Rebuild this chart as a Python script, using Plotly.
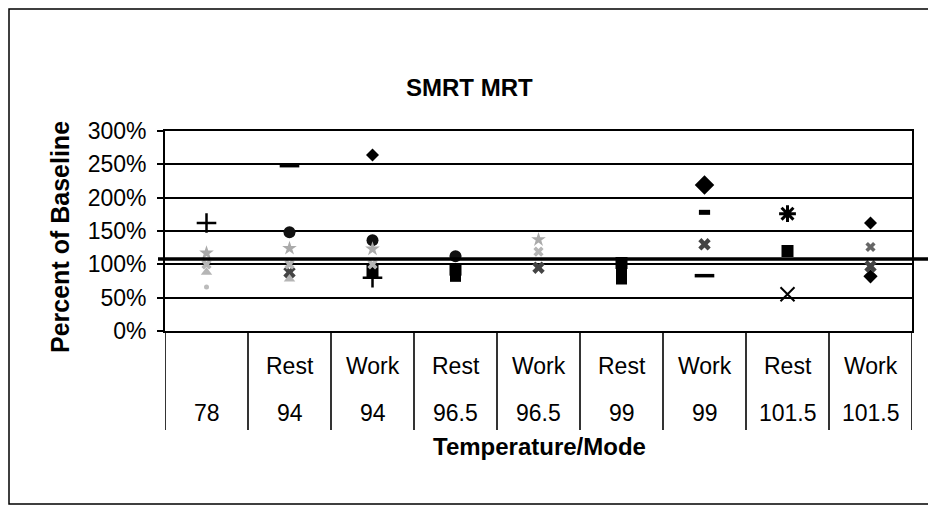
import plotly.graph_objects as go

# ---------------- data ----------------
temps = ["78", "94", "94", "96.5", "96.5", "99", "99", "101.5", "101.5"]
modes = ["", "Rest", "Work", "Rest", "Work", "Rest", "Work", "Rest", "Work"]
yticks = [0, 0.5, 1.0, 1.5, 2.0, 2.5, 3.0]
ytick_text = ["0%", "50%", "100%", "150%", "200%", "250%", "300%"]
baseline_avg = 1.08

# values as fraction of baseline (None = no marker)
diamond_big_vals = [None, None, None, None, None, None, 2.19, None, None]
diamond_vals = [None, None, 2.64, None, None, None, None, None, 1.62]
diamond_low_vals = [None, None, None, None, None, None, None, None, 0.82]
bar_vals = [None, 2.48, None, None, None, None, 0.83, None, None]
short_bar_vals = [None, None, None, None, None, None, 1.78, None, None]
plus_vals = [1.62, None, 0.80, None, None, None, None, None, None]
circle_vals = [None, 1.48, 1.36, 1.12, None, None, None, None, None]
square_vals = [None, None, 0.90, 0.92, None, 1.02, None, 1.20, None]
square_low_vals = [None, None, None, 0.82, None, 0.90, None, None, None]
square_low2_vals = [None, None, None, None, None, 0.78, None, None, None]
asterisk_vals = [None, None, None, None, None, None, None, 1.76, None]
xthin_vals = [None, None, None, None, None, None, None, 0.55, None]
xgrey_vals = [None, 0.88, None, None, 0.95, None, 1.30, None, 0.97]
dots_vals = [None, None, None, None, None, None, None, None, 1.26]
faint_star_vals = [1.17, 1.24, 1.23, None, 1.37, None, None, None, None]
faint_x_vals = [1.00, 1.00, 1.00, None, 1.19, None, None, None, None]
faint_tri_vals = [0.88, 0.78, None, None, None, None, None, None, None]
faint_dot_vals = [0.66, None, None, None, None, None, None, None, None]

xs = list(range(len(temps)))

# name, values, symbol, size, colour, outline width
series = [
    ("diamond_big", diamond_big_vals, "diamond", 15, "black", 0),
    ("diamond", diamond_vals, "diamond", 10, "black", 0),
    ("diamond_low", diamond_low_vals, "diamond", 11, "black", 0),
    ("bar", bar_vals, "line-ew", 14, "black", 3.5),
    ("short_bar", short_bar_vals, "line-ew", 8, "black", 5),
    ("plus", plus_vals, "cross-thin", 14, "black", 2.5),
    ("circle", circle_vals, "circle", 12, "#111", 0),
    ("square", square_vals, "square", 12, "black", 0),
    ("square_low", square_low_vals, "square", 11, "black", 0),
    ("square_low2", square_low2_vals, "square", 11, "black", 0),
    ("asterisk", asterisk_vals, "asterisk", 14, "black", 3),
    ("xthin", xthin_vals, "x-thin", 14, "black", 2),
    ("xgrey", xgrey_vals, "x", 11, "#444", 0),
    ("dots", dots_vals, "x", 9, "#666", 0),
    ("faint_star", faint_star_vals, "star", 11, "#aaa", 0),
    ("faint_x", faint_x_vals, "x", 9, "#b5b5b5", 0),
    ("faint_tri", faint_tri_vals, "triangle-up", 10, "#b5b5b5", 0),
    ("faint_dot", faint_dot_vals, "circle", 5, "#bbb", 0),
]

fig = go.Figure()
for name, vals, sym, size, col, lw in series:
    fig.add_trace(go.Scatter(
        x=xs, y=vals, mode="markers", name=name,
        marker=dict(symbol=sym, size=size, color=col,
                    line=dict(color=col, width=lw)),
        showlegend=False, cliponaxis=False,
    ))

FONT = "Arial, Liberation Sans, sans-serif"

OFF = 8  # page body margin offset
W, H = 936, 510
PL, PR, PT, PB = 165 - OFF, 912 - OFF, 131 - OFF, 331 - OFF
pw, ph = PR - PL, PB - PT


def py(p):
    return (PB - (p - OFF)) / ph


def px(p):
    return ((p - OFF) - PL) / pw


shapes = []
# thick average line
shapes.append(dict(type="line", xref="paper", yref="y",
                   x0=px(158), x1=px(928),
                   y0=baseline_avg, y1=baseline_avg,
                   line=dict(color="black", width=3.5), layer="above"))
# category table dividers
for k in range(len(temps) + 1):
    shapes.append(dict(type="line", xref="x", yref="paper",
                       x0=k - 0.5, x1=k - 0.5, y0=py(430), y1=0,
                       line=dict(color="black", width=1.6)))
# outer chart border
shapes.append(dict(type="rect", xref="paper", yref="paper",
                   x0=px(9), x1=px(931),
                   y0=py(504), y1=py(9),
                   line=dict(color="black", width=1.5)))


def ann(x, y, text, xref="paper", size=23, angle=0):
    return dict(x=x, y=y, xref=xref, yref="paper", text=text, showarrow=False,
                xanchor="center", yanchor="middle", textangle=angle,
                font=dict(family=FONT, size=size, color="black"))


annotations = []
for i, (t, m) in enumerate(zip(temps, modes)):
    if m:
        annotations.append(ann(i, py(366), m, xref="x"))
    annotations.append(ann(i, py(413), t, xref="x"))
annotations.append(ann(px(539), py(446), "<b>Temperature/Mode</b>", size=24))
annotations.append(ann(px(60), py(237), "<b>Percent of Baseline</b>", size=25, angle=-90))
annotations.append(ann(px(469), py(88), "<b>SMRT MRT</b>", size=24))

fig.update_layout(
    width=W, height=H,
    margin=dict(l=PL, r=W - PR, t=PT, b=H - PB),
    paper_bgcolor="white", plot_bgcolor="white",
    shapes=shapes, annotations=annotations,
    xaxis=dict(range=[-0.5, 8.5], showticklabels=False, showgrid=False,
               zeroline=False, showline=True, linecolor="black", linewidth=1.8,
               mirror=True, ticks=""),
    yaxis=dict(range=[0, 3], tickvals=yticks, ticktext=ytick_text,
               showgrid=True, gridcolor="black", gridwidth=1.6,
               zeroline=False, showline=True, linecolor="black", linewidth=1.8,
               mirror=True, ticks="outside", ticklen=6, tickcolor="black",
               tickwidth=1.5,
               tickfont=dict(family=FONT, size=23, color="black"),
               ticklabelstandoff=6),
)

fig.write_html("out.html")
